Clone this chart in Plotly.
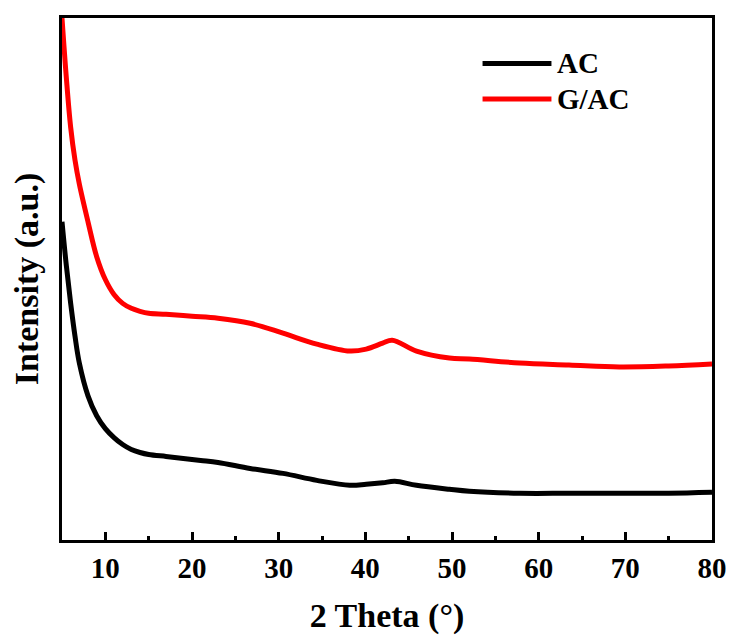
import plotly.graph_objects as go

# 2-theta positions (degrees) and intensities (a.u.)
theta_ac = [5, 5.5, 6, 6.5, 7, 8, 9, 10, 11, 12, 13, 14, 15, 17, 19, 21, 23, 26.7, 30.5, 34.4,
            38.2, 40.1, 42, 43.4, 45.9, 49.7, 52, 57.8, 63.5, 69.3, 75, 80]
int_ac = [3200, 2760, 2380, 2050, 1780, 1450, 1250, 1120, 1030, 960, 910, 880, 860, 840, 820,
          800, 780, 720, 670, 600, 550, 560, 575, 590, 550, 510, 490, 470, 470, 470, 470, 480]

theta_gac = [5, 5.5, 6, 6.5, 7, 8, 9, 10, 11, 12, 13, 14, 15, 17, 20, 23, 26.7, 30.5, 34.4,
             38.2, 40.1, 42, 43.1, 45.9, 49.7, 52, 57.8, 63.5, 69.3, 75, 80]
int_gac = [5250, 4650, 4150, 3820, 3580, 3200, 2850, 2620, 2470, 2380, 2330, 2300, 2280, 2270,
           2250, 2230, 2180, 2080, 1970, 1900, 1920, 1980, 2010, 1900, 1830, 1820, 1780,
           1760, 1740, 1750, 1770]

series_names = ["AC", "G/AC"]
series_colors = ["#000000", "#ff0000"]
x_ticks = [10, 20, 30, 40, 50, 60, 70, 80]

FONT = "Liberation Serif"

fig = go.Figure()
for name, xs, ys, col in [(series_names[0], theta_ac, int_ac, series_colors[0]),
                          (series_names[1], theta_gac, int_gac, series_colors[1])]:
    fig.add_trace(go.Scatter(x=xs, y=ys, mode="lines", name=name,
                             line=dict(color=col, width=5, shape="spline", smoothing=1.0),
                             showlegend=False))

# legend drawn manually (long line samples as in original)
leg_y = [0.913, 0.845]
for i, (name, col) in enumerate(zip(series_names, series_colors)):
    fig.add_shape(type="line", xref="paper", yref="paper",
                  x0=0.647, x1=0.753, y0=leg_y[i], y1=leg_y[i],
                  line=dict(color=col, width=5))
    fig.add_annotation(xref="paper", yref="paper", x=0.758, y=leg_y[i],
                       text="<b>%s</b>" % name, showarrow=False, xanchor="left",
                       yanchor="middle", font=dict(family=FONT, size=29, color="black"))

fig.update_layout(
    width=726, height=634,
    margin=dict(l=54, r=21, t=7, b=102),
    plot_bgcolor="white", paper_bgcolor="white",
    font=dict(family=FONT, color="black"),
    xaxis=dict(
        range=[5, 80], tickvals=x_ticks, ticks="inside", ticklen=8, tickwidth=2.5,
        tickcolor="black",
        minor=dict(dtick=5, tick0=5, ticks="inside", ticklen=4, tickwidth=2.5, tickcolor="black"),
        showline=True, linecolor="black", linewidth=3, mirror=True, showgrid=False,
        zeroline=False,
        tickfont=dict(family=FONT, size=29, color="black", weight="bold"),
        title=dict(text="<b>2 Theta (°)</b>", font=dict(family=FONT, size=34, color="black"),
                   standoff=21),
    ),
    yaxis=dict(
        range=[0, 5250], showticklabels=False, ticks="", showgrid=False, zeroline=False,
        showline=True, linecolor="black", linewidth=3, mirror=True,
        title=dict(text="<b>Intensity (a.u.)</b>", font=dict(family=FONT, size=34, color="black"),
                   standoff=11),
    ),
)

fig.write_html("out.html")
